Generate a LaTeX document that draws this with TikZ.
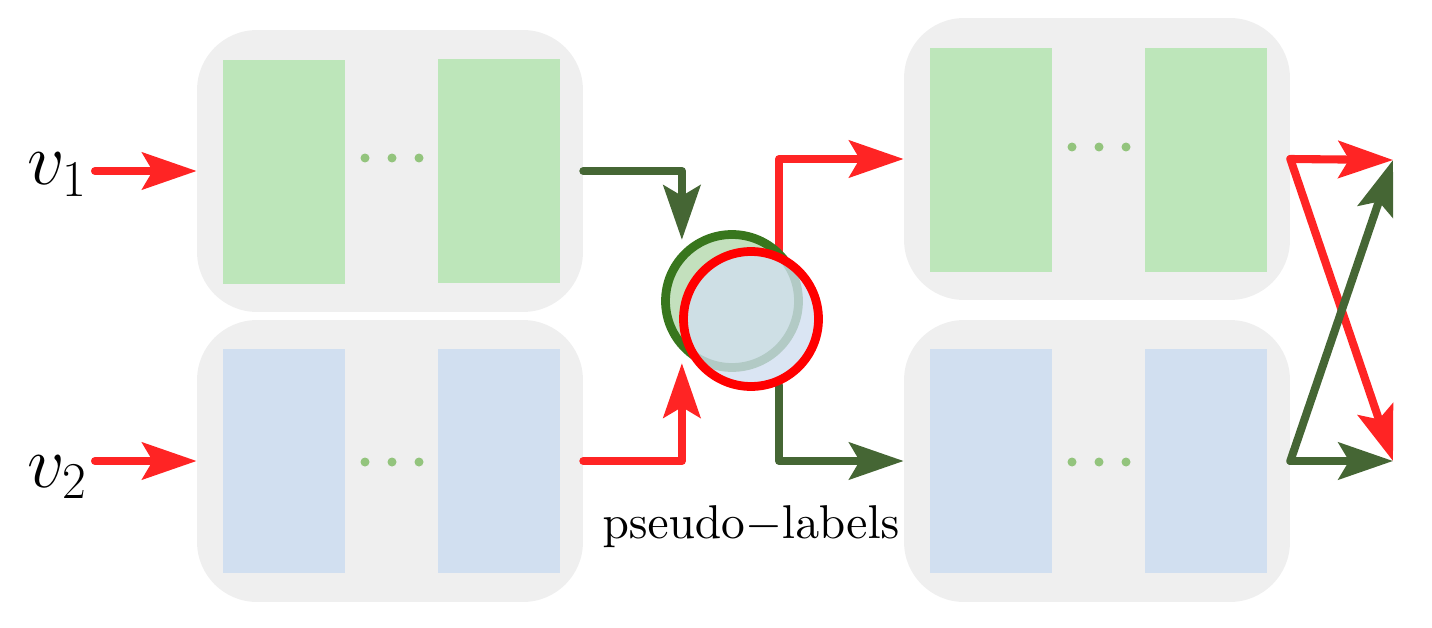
\RequirePackage{fix-cm}
\documentclass[tikz,border=0pt]{standalone}
\usetikzlibrary{arrows.meta,calc}
\definecolor{boxgrey}{HTML}{EFEFEF}
\definecolor{lgreen}{HTML}{BDE6BA}
\definecolor{lblue}{HTML}{D1DFF0}
\definecolor{dotgreen}{HTML}{93C47D}
\definecolor{arred}{HTML}{FF2424}
\definecolor{argreen}{HTML}{456634}
\definecolor{ringgreen}{HTML}{38761D}
\definecolor{cgreen}{HTML}{C3E0BD}
\font\plfont=cmr10 at 27pt
\begin{document}
\begin{tikzpicture}[x=0.02cm,y=-0.02cm,
  panel/.style={fill=boxgrey, rounded corners=1.2cm, minimum width=7.72cm, minimum height=5.64cm, inner sep=0pt},
  gbar/.style={fill=lgreen, minimum width=2.44cm, minimum height=4.48cm, inner sep=0pt},
  bbar/.style={fill=lblue, minimum width=2.44cm, minimum height=4.48cm, inner sep=0pt},
  gdot/.style={circle, fill=dotgreen, minimum size=0.18cm, inner sep=0pt},
  conn/.style={line width=4.6pt, line cap=round, line join=round, -{Stealth[length=31pt,width=21pt,inset=6pt]}},
  redc/.style={conn, draw=arred},
  greenc/.style={conn, draw=argreen},
  lab/.style={font=\fontsize{42}{50}\selectfont, inner sep=0pt, anchor=base}
]
\useasboundingbox (0,0) rectangle (1432,628);
% panels
\node[panel] (tl) at (390,171) {};
\node[panel] (bl) at (390,461) {};
\node[panel] (tr) at (1097,159) {};
\node[panel] (br) at (1097,461) {};
% bars
\node[gbar] (tl1) at (284,172) {};
\node[gbar] (tl2) at (499,171) {};
\node[bbar] (bl1) at (284,461) {};
\node[bbar] (bl2) at (499,461) {};
\node[gbar] (tr1) at (991,160) {};
\node[gbar] (tr2) at (1206,160) {};
\node[bbar] (br1) at (991,461) {};
\node[bbar] (br2) at (1206,461) {};
% dots
\foreach \x/\n in {365/a,392/b,419/c}{
  \node[gdot] (dtl\n) at (\x,158) {};
  \node[gdot] (dbl\n) at (\x,462) {};
}
\foreach \x/\n in {1072/a,1099/b,1126/c}{
  \node[gdot] (dtr\n) at (\x,147) {};
  \node[gdot] (dbr\n) at (\x,462) {};
}
% labels
\node[lab] (v1) at (57,185) {$v_1$};
\node[lab] (v2) at (57,487) {$v_2$};
\node[font=\fontsize{27}{32}\selectfont, inner sep=0pt, anchor=base] (pl) at (751,538) {{\plfont pseudo}$-${\plfont labels}};
% circles (positions only, drawn later)
\coordinate (c1p) at (732,301);
\coordinate (c2p) at (751,319);
\node[circle, minimum size=2.66cm, inner sep=0pt, line width=5pt] (c1) at (c1p) {};
\node[circle, minimum size=2.7cm, inner sep=0pt, line width=5pt] (c2) at (c2p) {};
% input arrows
\coordinate (s1) at (95,171);
\coordinate (s2) at (95,461);
\draw[redc] (s1) -- (tl.west);
\draw[redc] (s2) -- (bl.west);
% into circles
\draw[greenc, shorten >=0.22cm] (tl.east) -| (c1.north west);
\draw[redc, shorten >=0.24cm] (bl.east) -| (c1.south west);
% out of circles
\draw[redc] (c2.67) |- (tr.west);
\draw[greenc] (c2.-67) |- (br.west);
% crossing
\coordinate (t1) at (1393,160);
\coordinate (t2) at (1393,461);
\draw[redc] (tr.east) -- (t1);
\draw[redc] (tr.east) -- (t2);
\draw[greenc] (br.east) -- (t2);
\draw[greenc] (br.east) -- (t1);
% draw circles
\draw[ringgreen, line width=5pt, fill=cgreen] (c1p) circle[radius=1.33cm];
\fill[lblue, fill opacity=0.8] (c2p) circle[radius=1.35cm];
\draw[red, line width=5pt] (c2p) circle[radius=1.35cm];
\end{tikzpicture}
\end{document}
